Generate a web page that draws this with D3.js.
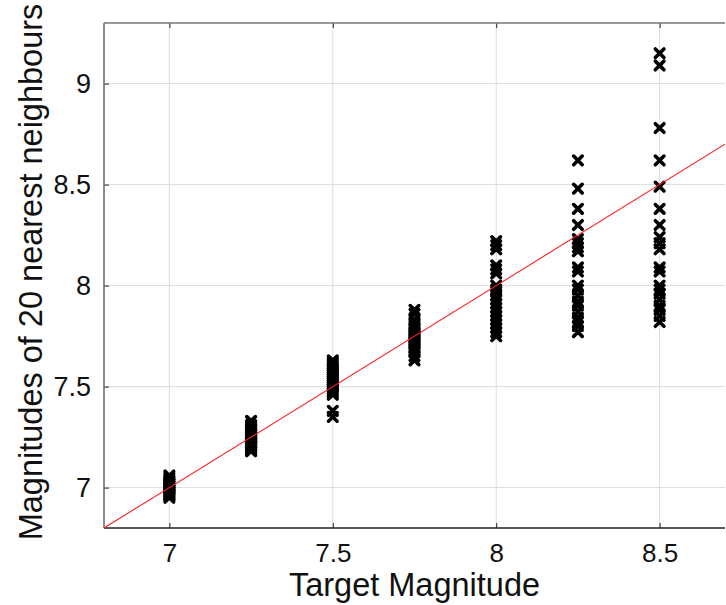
<!DOCTYPE html>
<html>
<head>
<meta charset="utf-8">
<script src="https://cdn.jsdelivr.net/npm/d3@7"></script>
<style>
  body { margin: 0; background: #fff; }
  svg { display: block; font-family: "Liberation Sans", Arial, Helvetica, sans-serif; }
</style>
</head>
<body>
<svg id="chart"></svg>
<script>
// Declare Variables
let targets = [7, 7.25, 7.5, 7.75, 8, 8.25, 8.5];

let neighbours = [
  [7.06, 7.05, 7.04, 7.03, 7.03, 7.02, 7.02, 7.01, 7.01, 7.00, 7.00, 6.99, 6.99, 6.98, 6.98, 6.97, 6.97, 6.96, 6.96, 6.95],
  [7.33, 7.31, 7.30, 7.29, 7.28, 7.27, 7.27, 7.26, 7.25, 7.25, 7.24, 7.24, 7.23, 7.22, 7.22, 7.21, 7.21, 7.20, 7.19, 7.18],
  [7.63, 7.62, 7.61, 7.60, 7.59, 7.58, 7.57, 7.56, 7.55, 7.54, 7.53, 7.52, 7.51, 7.50, 7.49, 7.48, 7.47, 7.46, 7.38, 7.35],
  [7.88, 7.86, 7.83, 7.81, 7.80, 7.79, 7.78, 7.77, 7.76, 7.75, 7.74, 7.73, 7.72, 7.71, 7.70, 7.69, 7.68, 7.67, 7.65, 7.63],
  [8.22, 8.20, 8.18, 8.10, 8.08, 8.06, 8.00, 7.98, 7.97, 7.95, 7.93, 7.91, 7.89, 7.87, 7.85, 7.83, 7.81, 7.79, 7.77, 7.75],
  [8.62, 8.48, 8.38, 8.30, 8.23, 8.21, 8.19, 8.17, 8.09, 8.07, 8.00, 7.98, 7.95, 7.92, 7.90, 7.87, 7.84, 7.82, 7.80, 7.77],
  [9.15, 9.09, 8.78, 8.62, 8.49, 8.38, 8.30, 8.24, 8.21, 8.18, 8.09, 8.07, 8.00, 7.98, 7.96, 7.93, 7.90, 7.88, 7.85, 7.82]
];

let xTicks = [7, 7.5, 8, 8.5];
let yTicks = [7, 7.5, 8, 8.5, 9];
let xDomain = [6.8, 8.7];
let yDomain = [6.8, 9.3];

let width = 726;
let height = 605;
let plotLeft = 104;
let plotRight = 725;
let plotTop = 23;
let plotBottom = 528;

let svg = d3.select("svg").attr("width", width).attr("height", height);

let points = [];
targets.forEach((t, i) => {
  neighbours[i].forEach((v) => points.push({ x: t, y: v }));
});

let xScale = d3.scaleLinear().domain(xDomain).range([plotLeft, plotRight]);
let yScale = d3.scaleLinear().domain(yDomain).range([plotBottom, plotTop]);

// grid
let drawGrid = () => {
  let g = svg.append("g").attr("class", "grid");
  g.selectAll(".vx")
    .data(xTicks)
    .enter()
    .append("line")
    .attr("x1", (d) => xScale(d))
    .attr("x2", (d) => xScale(d))
    .attr("y1", plotTop)
    .attr("y2", plotBottom)
    .attr("stroke", "#dcdcdc")
    .attr("stroke-width", 1);
  g.selectAll(".hy")
    .data(yTicks)
    .enter()
    .append("line")
    .attr("x1", plotLeft)
    .attr("x2", plotRight)
    .attr("y1", (d) => yScale(d))
    .attr("y2", (d) => yScale(d))
    .attr("stroke", "#dcdcdc")
    .attr("stroke-width", 1);
};

let drawAxes = () => {
  let xAxis = d3.axisBottom(xScale).tickValues(xTicks).tickSizeInner(-5).tickSizeOuter(0).tickPadding(16).tickFormat(d3.format("~g"));
  let yAxis = d3.axisLeft(yScale).tickValues(yTicks).tickSizeInner(-5).tickSizeOuter(0).tickPadding(13).tickFormat(d3.format("~g"));

  let gx = svg.append("g").attr("transform", "translate(0," + plotBottom + ")").call(xAxis);
  gx.select(".domain").remove();
  gx.selectAll("line").attr("stroke", "#222");
  gx.selectAll("text").attr("font-size", 26).attr("fill", "#111").attr("font-family", "Liberation Sans, Arial, sans-serif");

  let gxTop = svg.append("g").attr("transform", "translate(0," + plotTop + ")").call(d3.axisTop(xScale).tickValues(xTicks).tickSizeInner(-5).tickSizeOuter(0).tickFormat(""));
  gxTop.select(".domain").remove();
  gxTop.selectAll("line").attr("stroke", "#222");

  let gy = svg.append("g").attr("transform", "translate(" + plotLeft + ",0)").call(yAxis);
  gy.select(".domain").remove();
  gy.selectAll("line").attr("stroke", "#222");
  gy.selectAll("text").attr("font-size", 27).attr("fill", "#111").attr("font-family", "Liberation Sans, Arial, sans-serif");

  // frame
  svg.append("line").attr("x1", plotLeft).attr("x2", plotLeft).attr("y1", plotTop).attr("y2", plotBottom).attr("stroke", "#666").attr("stroke-width", 1.5);
  svg.append("line").attr("x1", plotLeft).attr("x2", plotRight).attr("y1", plotTop).attr("y2", plotTop).attr("stroke", "#777").attr("stroke-width", 1.5);
  svg.append("line").attr("x1", plotLeft).attr("x2", plotRight).attr("y1", plotBottom).attr("y2", plotBottom).attr("stroke", "#222").attr("stroke-width", 1.5);

  svg.append("text")
    .attr("x", (plotLeft + plotRight) / 2)
    .attr("y", 596)
    .attr("text-anchor", "middle")
    .attr("font-size", 32.5)
    .attr("fill", "#111")
    .text("Target Magnitude");

  svg.append("text")
    .attr("transform", "translate(42," + 272 + ") rotate(-90)")
    .attr("text-anchor", "middle")
    .attr("font-size", 32.5)
    .attr("fill", "#111")
    .text("Magnitudes of 20 nearest neighbours");
};

let drawFit = () => {
  svg.append("clipPath").attr("id", "plotclip")
    .append("rect").attr("x", plotLeft).attr("y", plotTop).attr("width", plotRight - plotLeft).attr("height", plotBottom - plotTop);
  svg.append("line")
    .attr("clip-path", "url(#plotclip)")
    .attr("x1", xScale(6.8))
    .attr("y1", yScale(6.8))
    .attr("x2", xScale(8.7))
    .attr("y2", yScale(8.7))
    .attr("stroke", "#ff2020")
    .attr("stroke-width", 1.1);
};

let drawPoints = () => {
  let s = 4.3;
  svg.append("g")
    .selectAll("path")
    .data(points)
    .enter()
    .append("path")
    .attr("d", (d) => {
      let cx = xScale(d.x);
      let cy = yScale(d.y);
      return `M${cx - s},${cy - s}L${cx + s},${cy + s}M${cx - s},${cy + s}L${cx + s},${cy - s}`;
    })
    .attr("stroke", "#000")
    .attr("stroke-width", 3.6)
    .attr("stroke-linecap", "round")
    .attr("fill", "none");
};

drawGrid();
drawAxes();
drawPoints();
drawFit();
</script>
</body>
</html>
